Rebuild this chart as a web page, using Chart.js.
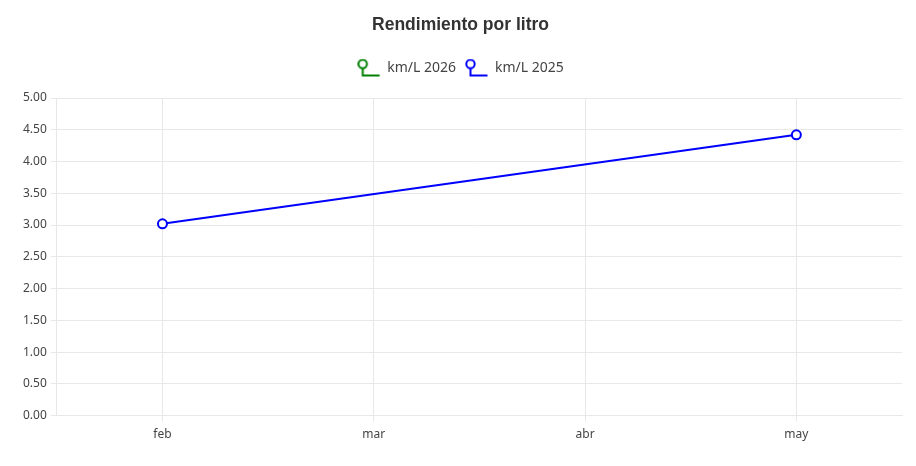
<!DOCTYPE html>
<html lang="es">
<head>
  <meta charset="UTF-8" />
  <title>Rendimiento por litro</title>
  <script src="https://cdn.jsdelivr.net/npm/chart.js"></script>
  <style>
    * {
      box-sizing: border-box;
      margin: 0;
      padding: 0;
    }

    body {
      background: #fff;
    }

    .chart-container {
      position: relative;
      width: 916px;
      height: 466px;
    }
  </style>
</head>
<body>

<div class="chart-container">
  <canvas id="rendChart"></canvas>
</div>

<script>
  const meses = ["feb", "mar", "abr", "may"];
  const kml2026 = [null, null, null, null];
  const kml2025 = [3.02, null, null, 4.42];
  const yTicks = ["0.00", "0.50", "1.00", "1.50", "2.00", "2.50", "3.00", "3.50", "4.00", "4.50", "5.00"];

  const textFont = "'Noto Sans', sans-serif";

  // icono de leyenda: circulito arriba con linea en L
  function legendIcon(color) {
    const c = document.createElement("canvas");
    c.width = 23;
    c.height = 19;
    const ctx = c.getContext("2d");
    ctx.strokeStyle = color;
    ctx.lineWidth = 2;
    ctx.beginPath();
    ctx.arc(5.5, 5.5, 4.2, 0, Math.PI * 2);
    ctx.stroke();
    ctx.beginPath();
    ctx.moveTo(5.5, 9.7);
    ctx.lineTo(5.5, 17);
    ctx.lineTo(22.5, 17);
    ctx.stroke();
    return c;
  }

  const legendGap = {
    id: "legendGap",
    beforeInit(chart) {
      const fit = chart.legend.fit;
      chart.legend.fit = function () {
        fit.bind(chart.legend)();
        this.height += 13;
      };
    }
  };

  const ctx = document.getElementById("rendChart").getContext("2d");

  new Chart(ctx, {
    type: "line",
    data: {
      labels: meses,
      datasets: [
        {
          label: "km/L 2026",
          data: kml2026,
          borderColor: "#008000",
          backgroundColor: "#fff",
          borderWidth: 2,
          pointRadius: 4.5,
          pointBorderWidth: 2,
          pointStyle: "circle",
          spanGaps: true
        },
        {
          label: "km/L 2025",
          data: kml2025,
          borderColor: "#0000ff",
          backgroundColor: "#fff",
          borderWidth: 2,
          pointRadius: 4.5,
          pointBorderWidth: 2,
          pointStyle: "circle",
          spanGaps: true
        }
      ]
    },
    options: {
      responsive: true,
      maintainAspectRatio: false,
      animation: false,
      layout: {
        padding: { left: 19, right: 14, bottom: 18 }
      },
      scales: {
        x: {
          offset: true,
          grid: { color: "#e8e8e8", tickLength: 6 },
          border: { color: "#e8e8e8" },
          ticks: { color: "#444", padding: 6, font: { family: textFont, size: 12 } }
        },
        y: {
          min: 0,
          max: 5,
          grid: { color: "#e8e8e8", tickLength: 6 },
          border: { color: "#e8e8e8" },
          afterBuildTicks(axis) {
            axis.ticks = yTicks.map(t => ({ value: parseFloat(t) }));
          },
          ticks: {
            color: "#444",
            padding: 4,
            font: { family: textFont, size: 12 },
            callback: (v) => yTicks.find(t => parseFloat(t) === v)
          }
        }
      },
      plugins: {
        title: {
          display: true,
          text: "Rendimiento por litro",
          color: "#333",
          font: { family: "'Liberation Sans', Arial, sans-serif", size: 17.5, weight: "bold" },
          padding: { top: 15, bottom: 16 }
        },
        legend: {
          labels: {
            usePointStyle: true,
            pointStyleWidth: 23,
            color: "#444",
            padding: 9,
            font: { family: textFont, size: 14 },
            generateLabels(chart) {
              return chart.data.datasets.map((ds, i) => ({
                text: ds.label,
                datasetIndex: i,
                fontColor: "#444",
                pointStyle: legendIcon(ds.borderColor),
                hidden: !chart.isDatasetVisible(i),
                lineWidth: 0,
                strokeStyle: ds.borderColor,
                fillStyle: ds.borderColor
              }));
            }
          }
        },
        tooltip: { enabled: false }
      }
    },
    plugins: [legendGap]
  });
</script>

</body>
</html>
